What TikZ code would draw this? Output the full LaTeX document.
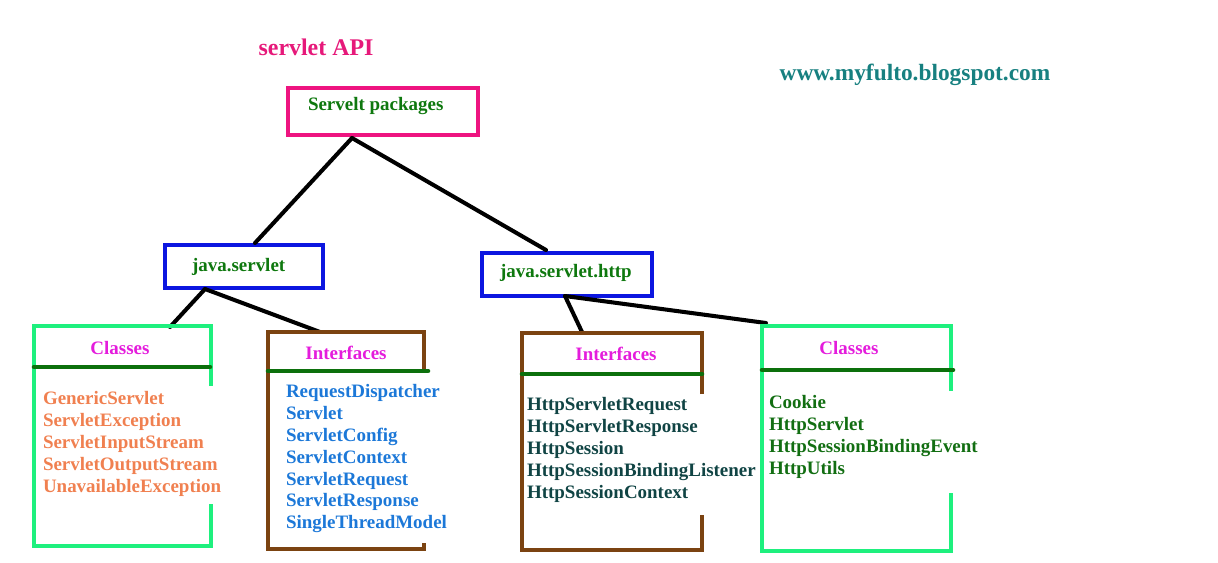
\documentclass[tikz,border=0pt]{standalone}
\usepackage{fontspec}
\setmainfont{Liberation Serif}
\usetikzlibrary{positioning}
\definecolor{apipink}{HTML}{E6197A}
\definecolor{boxpink}{HTML}{EE1480}
\definecolor{pkggreen}{HTML}{0E780E}
\definecolor{boxblue}{HTML}{0C16E0}
\definecolor{springgreen}{HTML}{1EF07E}
\definecolor{boxbrown}{HTML}{7B4311}
\definecolor{divgreen}{HTML}{0C700C}
\definecolor{headmagenta}{HTML}{E41CDC}
\definecolor{itemorange}{HTML}{F08050}
\definecolor{itemblue}{HTML}{1C78D8}
\definecolor{itemteal}{HTML}{104444}
\definecolor{itemgreen}{HTML}{126E12}
\definecolor{urlteal}{HTML}{178080}
\tikzstyle{every node}=[font=\bfseries\fontsize{10.8}{12.5}\selectfont,inner sep=0,outer sep=0]
\tikzstyle{conn}=[line width=2.3pt,black,line cap=round]
\tikzstyle{divline}=[line width=2.6pt,divgreen,line cap=round]
\tikzstyle{listtext}=[anchor=north west,align=left]

\begin{document}
\begin{tikzpicture}[x=0.02cm,y=-0.02cm]
		\useasboundingbox (0,0) rectangle (1218,562);
		\node[apipink,font=\bfseries\fontsize{13.6}{16}\selectfont] (api) at (316,47) {servlet API};
		\node[urlteal,font=\bfseries\fontsize{13.3}{16}\selectfont] (url) at (915,75) {www.myfulto.blogspot.com};
		% package boxes
		\draw[boxpink,line width=2.8pt] (288,88) rectangle (478,135);
		\node[anchor=west,pkggreen] (pkg) at (308,106) {Servelt packages};
		\draw[boxblue,line width=2.8pt] (165,245) rectangle (323,288);
		\node[anchor=west,pkggreen] (js) at (192,267) {java.servlet};
		\draw[boxblue,line width=2.8pt] (482,253) rectangle (652,296);
		\node[anchor=west,pkggreen] (jsh) at (500,273) {java.servlet.http};
		\coordinate[] (pkgb) at (352,138);
		\coordinate[] (jst) at (255,243);
		\coordinate[] (jsht) at (546,250);
		\coordinate[] (jsb) at (205,289);
		\coordinate[] (jshb) at (565,296);
		\coordinate[] (c1t) at (170,327);
		\coordinate[] (i1t) at (320,332);
		\coordinate[] (i2t) at (582,332);
		\coordinate[] (c2t) at (766,323);
		\draw[conn] (pkgb) -- (jst);
		\draw[conn] (pkgb) -- (jsht);
		\draw[conn] (jsb) -- (c1t);
		\draw[conn] (jsb) -- (i1t);
		\draw[conn] (jshb) -- (i2t);
		\draw[conn] (jshb) -- (c2t);
		% java.servlet classes
		\draw[springgreen,line width=2.4pt] (211,386) -- (211,326) -- (34,326) -- (34,546) -- (211,546) -- (211,504);
		\draw[divline] (34,367) -- (210,367);
		\node[headmagenta] (cls1) at (120,348) {Classes};
		\node[listtext,itemorange] (cls1list) at (43,391) {GenericServlet\\ServletException\\ServletInputStream\\ServletOutputStream\\UnavailableException};
		% java.servlet interfaces
		\draw[boxbrown,line width=2.4pt] (424,372) -- (424,332) -- (268,332) -- (268,549) -- (424,549) -- (424,543);
		\draw[divline] (268,371) -- (428,371);
		\node[headmagenta] (int1) at (346,353) {Interfaces};
		\node[listtext,itemblue] (int1list) at (286,384) {RequestDispatcher\\Servlet\\ServletConfig\\ServletContext\\ServletRequest\\ServletResponse\\SingleThreadModel};
		% java.servlet.http interfaces
		\draw[boxbrown,line width=2.4pt] (702,394) -- (702,333) -- (522,333) -- (522,550) -- (702,550) -- (702,515);
		\draw[divline] (522,374) -- (702,374);
		\node[headmagenta] (int2) at (616,354) {Interfaces};
		\node[listtext,itemteal] (int2list) at (527,397) {HttpServletRequest\\HttpServletResponse\\HttpSession\\HttpSessionBindingListener\\HttpSessionContext};
		% java.servlet.http classes
		\draw[springgreen,line width=2.4pt] (951,391) -- (951,326) -- (762,326) -- (762,551) -- (951,551) -- (951,493);
		\draw[divline] (762,370) -- (953,370);
		\node[headmagenta] (cls2) at (849,348) {Classes};
		\node[listtext,itemgreen] (cls2list) at (769,395) {Cookie\\HttpServlet\\HttpSessionBindingEvent\\HttpUtils};
	\end{tikzpicture}
\end{document}
